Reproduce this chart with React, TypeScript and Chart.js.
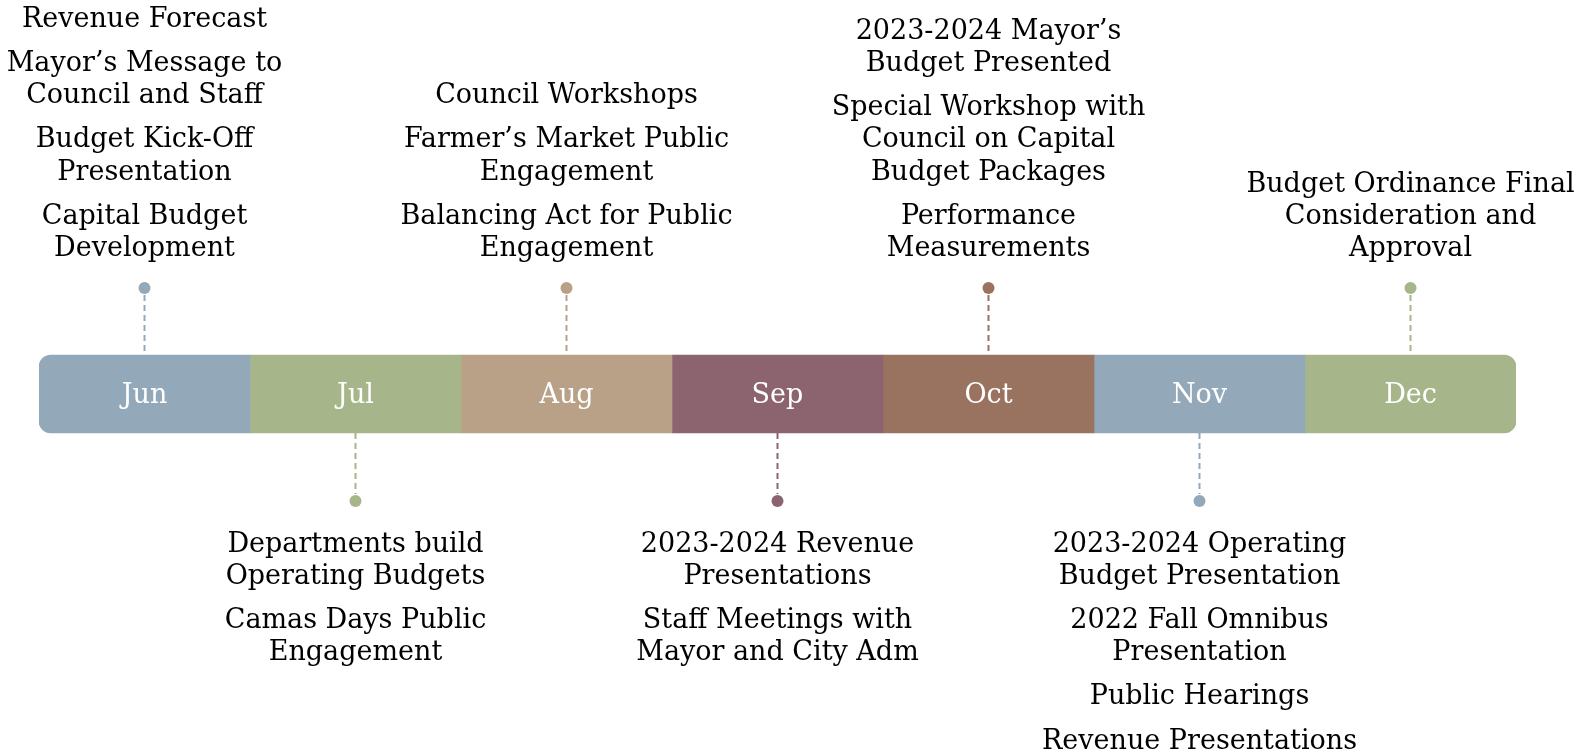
import { useEffect, useRef } from "react";
import { Chart, registerables } from "chart.js";

Chart.register(...registerables);

const months = ["Jun", "Jul", "Aug", "Sep", "Oct", "Nov", "Dec"];
const monthColors = ["#93a9b9", "#a7b68a", "#b8a187", "#8c6470", "#9a7260", "#93a9b9", "#a7b68a"];

const eventMonths = [0, 1, 2, 3, 4, 5, 6];
const eventSides = ["above", "below", "above", "below", "above", "below", "above"];
const eventTexts: string[][] = [
  ["Revenue Forecast", "Mayor\u2019s Message to\nCouncil and Staff", "Budget Kick-Off\nPresentation", "Capital Budget\nDevelopment"],
  ["Departments build\nOperating Budgets", "Camas Days Public\nEngagement"],
  ["Council Workshops", "Farmer\u2019s Market Public\nEngagement", "Balancing Act for Public\nEngagement"],
  ["2023-2024 Revenue\nPresentations", "Staff Meetings with\nMayor and City Adm"],
  ["2023-2024 Mayor\u2019s\nBudget Presented", "Special Workshop with\nCouncil on Capital\nBudget Packages", "Performance\nMeasurements"],
  ["2023-2024 Operating\nBudget Presentation", "2022 Fall Omnibus\nPresentation", "Public Hearings", "Revenue Presentations"],
  ["Budget Ordinance Final\nConsideration and\nApproval"],
];

const FONT = "'DejaVu Serif', serif";
const LINE_H = 32.2;
const ITEM_GAP = 12;
const DOT_OFFSET = 67;
const TEXT_OFFSET = 109;

const timelinePlugin = {
  id: "timeline",
  afterDatasetsDraw(chart: any) {
    const ctx = chart.ctx as CanvasRenderingContext2D;
    ctx.save();
    ctx.textAlign = "center";
    ctx.textBaseline = "middle";
    ctx.fillStyle = "#ffffff";
    ctx.font = `27px ${FONT}`;
    months.forEach((m, i) => {
      const el = chart.getDatasetMeta(i).data[0];
      ctx.fillText(m, (el.x + el.base) / 2, el.y + 2);
    });

    eventMonths.forEach((mi, k) => {
      const el = chart.getDatasetMeta(mi).data[0];
      const cx = chart.scales.x.getPixelForValue(mi + 0.5);
      const top = el.y - el.height / 2;
      const bottom = el.y + el.height / 2;
      const color = monthColors[mi];
      const above = eventSides[k] === "above";
      const dotY = above ? top - DOT_OFFSET : bottom + DOT_OFFSET + 1;
      ctx.strokeStyle = color;
      ctx.lineWidth = 2;
      ctx.setLineDash([6, 4]);
      ctx.beginPath();
      if (above) {
        ctx.moveTo(cx, dotY + 7);
        ctx.lineTo(cx, top);
      } else {
        ctx.moveTo(cx, bottom);
        ctx.lineTo(cx, dotY - 7);
      }
      ctx.stroke();
      ctx.setLineDash([]);
      ctx.fillStyle = color;
      ctx.beginPath();
      ctx.arc(cx, dotY, 6, 0, Math.PI * 2);
      ctx.fill();
      ctx.fillStyle = "#000000";
      ctx.font = `27px ${FONT}`;
      const items = eventTexts[k].map((t) => t.split("\n"));
      if (above) {
        let y = top - TEXT_OFFSET + 3;
        for (let a = items.length - 1; a >= 0; a--) {
          const lines = items[a];
          for (let b = lines.length - 1; b >= 0; b--) {
            ctx.fillText(lines[b], cx, y);
            y -= LINE_H;
          }
          y -= ITEM_GAP;
        }
      } else {
        let y = bottom + TEXT_OFFSET + 2.5;
        for (let a = 0; a < items.length; a++) {
          const lines = items[a];
          for (let b = 0; b < lines.length; b++) {
            ctx.fillText(lines[b], cx, y);
            y += LINE_H;
          }
          y += ITEM_GAP;
        }
      }
    });
    ctx.restore();
  },
};

export default function App() {
  const ref = useRef<HTMLCanvasElement>(null);
  useEffect(() => {
    if (!ref.current) return;
    const last = months.length - 1;
    const chart = new Chart(ref.current, {
      type: "bar",
      data: {
        labels: [""],
        datasets: months.map((m, i) => ({
          label: m,
          data: [[i, i + 1]] as any,
          backgroundColor: monthColors[i],
          borderWidth: 0,
          borderSkipped: false,
          grouped: false,
          barThickness: 78,
          borderRadius:
            i === 0
              ? { topLeft: 12, bottomLeft: 12, topRight: 0, bottomRight: 0 }
              : i === last
              ? { topLeft: 0, bottomLeft: 0, topRight: 12, bottomRight: 12 }
              : 0,
        })) as any,
      },
      options: {
        indexAxis: "y",
        animation: false,
        responsive: false,
        devicePixelRatio: 1,
        layout: { padding: { left: 39, right: 64, top: 34, bottom: 0 } },
        scales: {
          x: { type: "linear", min: 0, max: months.length, display: false },
          y: { type: "category", display: false },
        },
        plugins: { legend: { display: false }, tooltip: { enabled: false } },
      },
      plugins: [timelinePlugin],
    } as any);
    return () => chart.destroy();
  }, []);
  return (
    <div style={{ position: "absolute", left: 0, top: 0, width: 1580, height: 754, background: "#fff" }}>
      <canvas ref={ref} width={1580} height={754} />
    </div>
  );
}
